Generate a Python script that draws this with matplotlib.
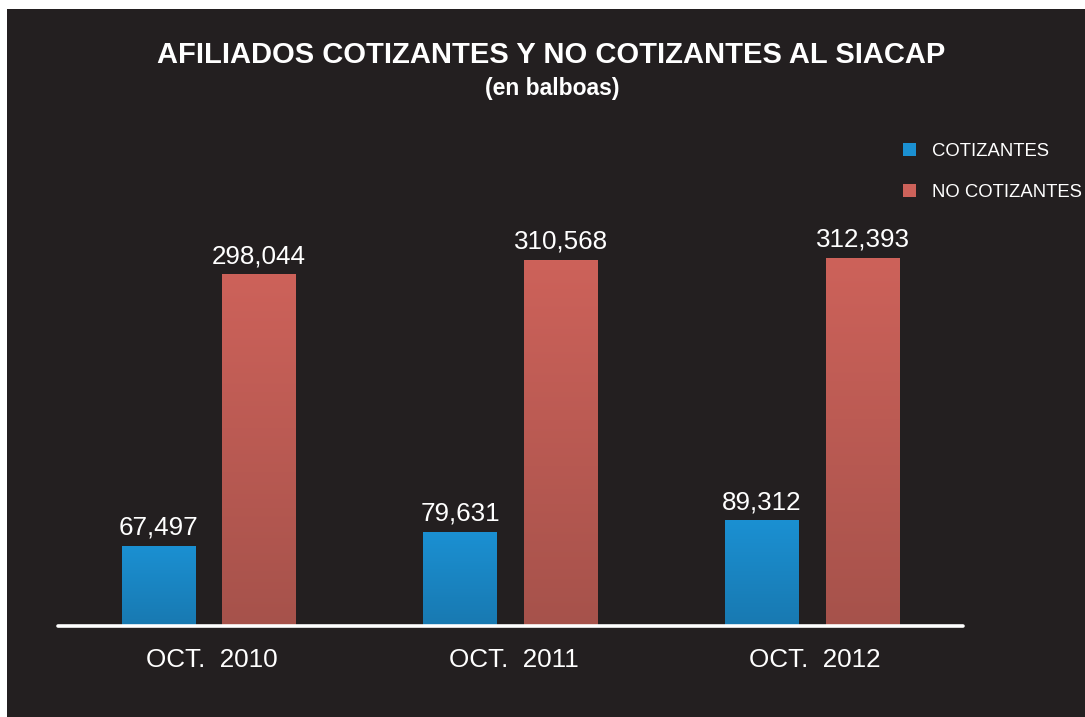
import numpy as np
import matplotlib.pyplot as plt
import matplotlib.transforms as mtransforms
from matplotlib.patches import Rectangle
from matplotlib.colors import LinearSegmentedColormap

plt.rcParams["font.family"] = ["Liberation Sans", "DejaVu Sans"]

# data
periods = ["OCT.  2010", "OCT.  2011", "OCT.  2012"]
cotizantes = [67497, 79631, 89312]
no_cotizantes = [298044, 310568, 312393]
series_names = ["COTIZANTES", "NO COTIZANTES"]

BG = "#231f20"
BLUE_TOP, BLUE_BOT = "#1b90d2", "#1879b1"
RED_TOP, RED_BOT = "#cd625a", "#a6524b"

fig = plt.figure(figsize=(10.85, 7.17), dpi=100)
fig.patch.set_facecolor("white")
fig.patches.append(Rectangle((7 / 1085, 0), 1, (717 - 9) / 717,
                             transform=fig.transFigure, facecolor=BG,
                             edgecolor="none", zorder=-5))

ax = fig.add_axes([58 / 1085, 91 / 717, 905 / 1085, 526 / 717])
ax.set_zorder(2)
ax.patch.set_alpha(0)

x = np.arange(len(periods))
w = 0.245
off = 0.167
b1 = ax.bar(x - off, cotizantes, w, color=BLUE_TOP, label=series_names[0])
b2 = ax.bar(x + off, no_cotizantes, w, color=RED_TOP, label=series_names[1])


def shade(bars, top, bot):
    cmap = LinearSegmentedColormap.from_list("g", [bot, top])
    grad = np.linspace(0, 1, 256).reshape(-1, 1)
    for b in bars:
        x0, h = b.get_x(), b.get_height()
        ax.imshow(grad, cmap=cmap, origin="lower", aspect="auto",
                  extent=[x0, x0 + b.get_width(), 0, h], zorder=2)
        b.set_visible(False)


shade(b1, BLUE_TOP, BLUE_BOT)
shade(b2, RED_TOP, RED_BOT)

for bars, vals in ((b1, cotizantes), (b2, no_cotizantes)):
    for b, v in zip(bars, vals):
        ax.annotate(f"{v:,}", (b.get_x() + b.get_width() / 2, v),
                    xytext=(0, 8.5), textcoords="offset points",
                    ha="center", va="baseline", color="white", fontsize=18.7)

ax.set_xlim(-0.5, 2.5)
ax.set_ylim(0, 446600)
ax.set_xticks(x)
ax.set_xticklabels(periods, color="white", fontsize=18.7)
ax.tick_params(axis="x", length=0, pad=16)
# labels sit a few pixels right of the group centre in the original
shift = mtransforms.ScaledTranslation(3 / 100, 0, fig.dpi_scale_trans)
for lbl in ax.get_xticklabels():
    lbl.set_transform(lbl.get_transform() + shift)
ax.set_yticks([])
for s in ("top", "left", "right"):
    ax.spines[s].set_visible(False)
ax.spines["bottom"].set_color("white")
ax.spines["bottom"].set_linewidth(2.6)
ax.spines["bottom"].set_capstyle("round")

fig.text(551 / 1085, 1 - 55 / 717, "AFILIADOS COTIZANTES Y NO COTIZANTES AL SIACAP",
         ha="center", va="center", color="white", fontsize=21, fontweight="bold")
fig.text(552 / 1085, 1 - 88 / 717, "(en balboas)",
         ha="center", va="center", color="white", fontsize=16.5, fontweight="bold")

# legend
handles = [Rectangle((0, 0), 1, 1, facecolor=BLUE_TOP),
           Rectangle((0, 0), 1, 1, facecolor=RED_TOP)]
leg = fig.legend(handles, series_names, loc="upper left",
                 bbox_to_anchor=(903 / 1085, 1 - 143 / 717),
                 frameon=False, fontsize=13.3, labelcolor="white",
                 handlelength=0.72, handleheight=0.72, handletextpad=0.85,
                 labelspacing=1.3, borderaxespad=0, borderpad=0)

fig.savefig("out.png", dpi=100, facecolor=fig.get_facecolor())
